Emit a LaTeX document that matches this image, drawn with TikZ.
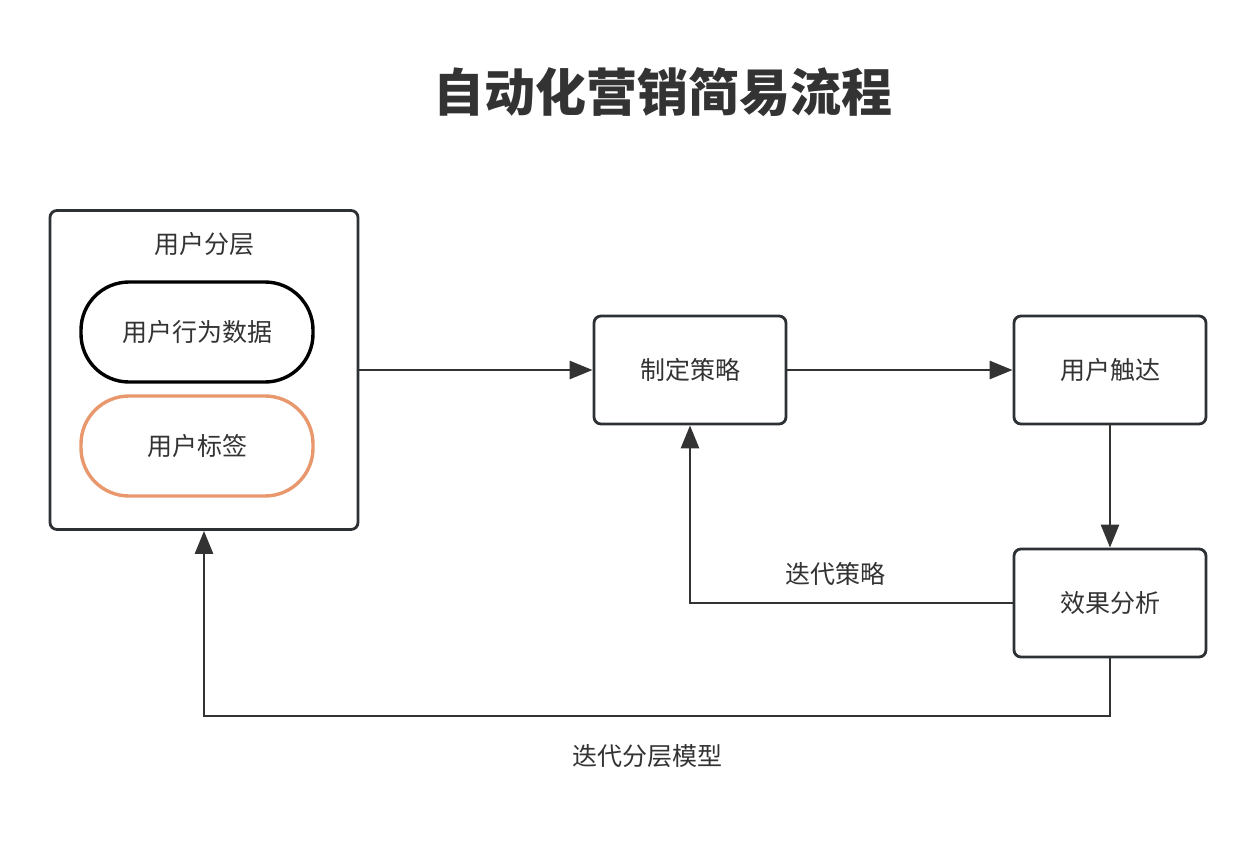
\documentclass[tikz,border=0pt]{standalone}
\usepackage{fontspec}
\setmainfont{Noto Sans CJK SC}
\usetikzlibrary{arrows.meta}
\definecolor{ink}{HTML}{333333}
\definecolor{boxline}{HTML}{2D3136}
\definecolor{tagline}{HTML}{E8986C}

\begin{document}
\begin{tikzpicture}[x=1pt,y=-1pt,
  stepbox/.style={draw=boxline,line width=2.8pt,rounded corners=7pt,minimum width=192pt,minimum height=108pt,text=ink,font=\fontsize{25}{30}\selectfont},
  pill/.style={line width=3.4pt,rounded corners=48pt,minimum width=232pt,minimum height=100pt,text=ink,font=\fontsize{25}{30}\selectfont},
  flow/.style={draw=ink,line width=2.8pt,-{Triangle[length=23pt,width=18pt]}},
  lbl/.style={text=ink,font=\fontsize{25}{30}\selectfont}]
  \useasboundingbox (0,0) rectangle (1256,844);
  \node[text=ink,font=\fontsize{51}{60}\selectfont\bfseries] (title) at (663,92) {自动化营销简易流程};
  % user layering group
  \node[stepbox,minimum width=308pt,minimum height=319pt] (layer) at (204,370) {};
  \node[lbl] (layername) at (204,244) {用户分层};
  \node[pill,draw=black] (behavior) at (197,332) {用户行为数据};
  \node[pill,draw=tagline] (tags) at (197,446) {用户标签};
  % steps
  \node[stepbox] (strategy) at (690,370) {制定策略};
  \node[stepbox] (reach) at (1110,370) {用户触达};
  \node[stepbox] (effect) at (1110,603) {效果分析};
  \coordinate (loopback) at (1110,716);
  \path
    (layer.east) edge[flow] (strategy.west)
    (strategy) edge[flow] (reach)
    (reach) edge[flow] (effect);
  \draw[flow] (effect.west) -| node[lbl,pos=0.275,above=13pt] {迭代策略} (strategy.south);
  \draw[flow] (effect.south) -- (loopback) -| node[lbl,pos=0.255,below=24pt] {迭代分层模型} (layer.south);
\end{tikzpicture}
\end{document}
